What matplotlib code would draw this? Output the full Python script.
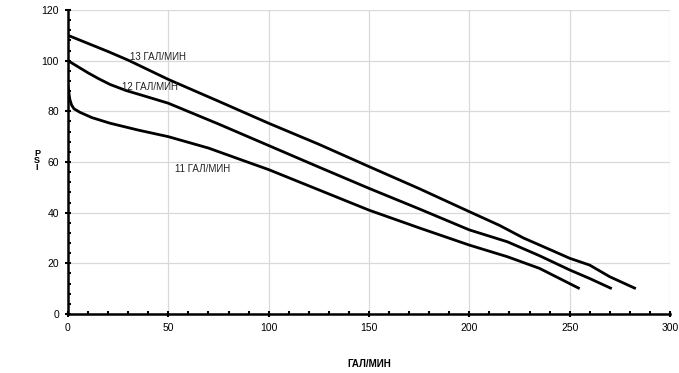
import numpy as np
import matplotlib.pyplot as plt
from matplotlib.ticker import MultipleLocator

plt.rcParams['font.family'] = ['Liberation Sans', 'DejaVu Sans']

# curve data (flow in gal/min, pressure in psi)
x13 = [0, 10, 20, 30, 40, 50, 75, 100, 125, 150, 175, 200, 215, 227, 240, 250, 260, 270, 283]
y13 = [110, 106.8, 103.6, 100.2, 96.4, 92.6, 84, 75.3, 67, 58.2, 49.5, 40.4, 35, 30, 25.5, 22, 19.3, 14.7, 10]

x12 = [0, 5, 10, 15, 21, 29, 40, 50, 75, 100, 125, 150, 175, 200, 219, 235, 250, 260, 271]
y12 = [100, 97.6, 95.2, 93, 90.6, 88.2, 85.6, 83.2, 75, 66.5, 58, 49.6, 41.5, 33.2, 28.5, 23, 17.4, 14, 10]

x11 = [0, 0.5, 1, 1.8, 3, 6, 12, 21, 35, 50, 70, 89, 100, 125, 150, 175, 200, 219, 235, 255]
y11 = [90.4, 87, 84.5, 82.5, 81, 79.6, 77.5, 75.3, 72.6, 70, 65.5, 60.1, 57, 49, 41, 34, 27.2, 22.6, 18, 10]

labels = ['13 ГАЛ/МИН', '12 ГАЛ/МИН', '11 ГАЛ/МИН']
label_pos = [(31, 101.5), (27, 89.6), (53.3, 57.2)]

fig = plt.figure(figsize=(6.79, 3.73), dpi=100)
ax = fig.add_axes([0.1001, 0.1582, 0.8866, 0.815])

for xs, ys in [(x13, y13), (x12, y12), (x11, y11)]:
    ax.plot(xs, ys, color='black', lw=2, solid_capstyle='butt', solid_joinstyle='round', zorder=3)

for txt, (tx, ty) in zip(labels, label_pos):
    ax.text(tx, ty, txt, fontsize=7, ha='left', va='center', color='#222222')

ax.set_xlim(0, 300)
ax.set_ylim(0, 120)
ax.xaxis.set_major_locator(MultipleLocator(50))
ax.xaxis.set_minor_locator(MultipleLocator(10))
ax.yaxis.set_major_locator(MultipleLocator(20))
ax.yaxis.set_minor_locator(MultipleLocator(4))
ax.grid(True, which='major', color='#d9d9d9', lw=0.9, zorder=0)
ax.set_axisbelow(True)

for s in ['top', 'right']:
    ax.spines[s].set_visible(False)
for s in ['left', 'bottom']:
    ax.spines[s].set_linewidth(1.8)

ax.tick_params(which='major', direction='inout', length=5, width=1.5, labelsize=7.5, colors='black', pad=4)
ax.tick_params(which='minor', direction='in', length=2.5, width=1.5)

ax.set_xlabel('ГАЛ/МИН', fontsize=7, fontweight='bold', labelpad=18.5)
fig.text(0.0545, 0.57, 'P\nS\nI', fontsize=6.5, fontweight='bold', ha='center', va='center', linespacing=0.75)

plt.savefig('out.png', dpi=100)
